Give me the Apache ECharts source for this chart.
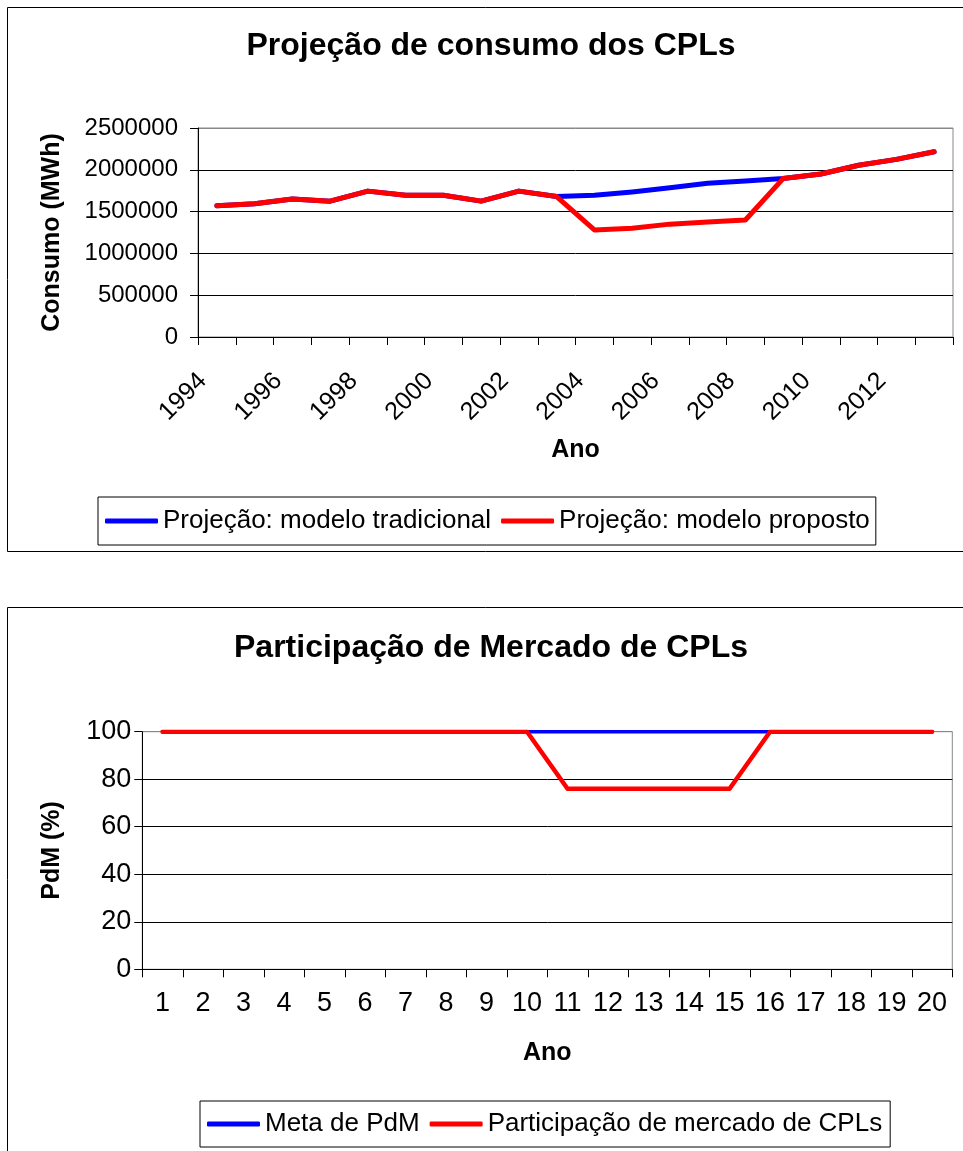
<!DOCTYPE html>
<html><head><meta charset="utf-8">
<script src="https://cdn.jsdelivr.net/npm/echarts@6/dist/echarts.min.js"></script>
<style>html,body{margin:0;padding:0;background:#fff}#c{width:963px;height:1151px}</style>
</head><body><div id="c"></div>
<script>
// ---- Chart 1: Projeção de consumo dos CPLs ----
const anos = ['1994','1995','1996','1997','1998','1999','2000','2001','2002','2003',
              '2004','2005','2006','2007','2008','2009','2010','2011','2012','2013'];
const modeloTradicional = [1570000,1595000,1650000,1625000,1745000,1695000,1695000,1625000,1745000,1680000,
                           1695000,1735000,1785000,1840000,1865000,1895000,1950000,2055000,2125000,2215000];
const modeloProposto =    [1570000,1595000,1650000,1625000,1745000,1695000,1695000,1625000,1745000,1680000,
                           1280000,1300000,1350000,1376000,1400000,1895000,1950000,2055000,2125000,2215000];
const consumoMin = 0, consumoMax = 2500000, consumoStep = 500000;

// ---- Chart 2: Participação de Mercado de CPLs ----
const periodos = ['1','2','3','4','5','6','7','8','9','10','11','12','13','14','15','16','17','18','19','20'];
const metaPdM = [100,100,100,100,100,100,100,100,100,100,100,100,100,100,100,100,100,100,100,100];
const participacaoCPL = [100,100,100,100,100,100,100,100,100,100,76,76,76,76,76,100,100,100,100,100];
const pdmMin = 0, pdmMax = 100, pdmStep = 20;

const FF = '"Liberation Sans", Arial, sans-serif';
const chart = echarts.init(document.getElementById('c'), null, {renderer: 'canvas'});

function splitColors(n) { const a = []; for (let i = 0; i < n - 1; i++) a.push('#000'); a.push('#888'); return a; }

const option = {
  backgroundColor: '#fff',
  animation: false,
  textStyle: {fontFamily: FF, color: '#000'},
  graphic: [
    {type: 'rect', shape: {x: 7.5, y: 7.5, width: 960, height: 544}, style: {fill: 'none', stroke: '#000', lineWidth: 1}, silent: true},
    {type: 'rect', shape: {x: 7.5, y: 607.5, width: 960, height: 560}, style: {fill: 'none', stroke: '#000', lineWidth: 1}, silent: true},
    {type: 'text', x: 491, y: 46, style: {text: 'Projeção de consumo dos CPLs', font: 'bold 32px ' + FF, fill: '#000',
      align: 'center', verticalAlign: 'middle', textAlign: 'center', textVerticalAlign: 'middle'}},
    {type: 'text', x: 491, y: 648, style: {text: 'Participação de Mercado de CPLs', font: 'bold 32px ' + FF, fill: '#000',
      align: 'center', verticalAlign: 'middle', textAlign: 'center', textVerticalAlign: 'middle'}}
  ],
  legend: [
    {
      left: 98, top: 497, orient: 'horizontal',
      padding: [11, 6, 11, 7], itemGap: 10, itemWidth: 53, itemHeight: 5,
      borderColor: '#000', borderWidth: 1, icon: 'roundRect',
      textStyle: {fontSize: 26, fontFamily: FF, color: '#000'},
      data: [{name: 'Projeção: modelo tradicional', itemStyle: {color: '#0000ff'}},
             {name: 'Projeção: modelo proposto', itemStyle: {color: '#ff0000'}}]
    },
    {
      left: 200, top: 1101, orient: 'horizontal',
      padding: [10, 8, 10, 7], itemGap: 10, itemWidth: 53, itemHeight: 5,
      borderColor: '#000', borderWidth: 1, icon: 'roundRect',
      textStyle: {fontSize: 26, fontFamily: FF, color: '#000'},
      data: [{name: 'Meta de PdM', itemStyle: {color: '#0000ff'}},
             {name: 'Participação de mercado de CPLs', itemStyle: {color: '#ff0000'}}]
    }
  ],
  grid: [
    {left: 198, top: 128, width: 755, height: 209, show: true, borderColor: '#888', borderWidth: 1, backgroundColor: 'transparent', containLabel: false},
    {left: 142.3, top: 731.7, width: 810, height: 237.6, show: true, borderColor: '#888', borderWidth: 1, backgroundColor: 'transparent', containLabel: false}
  ],
  xAxis: [
    {
      gridIndex: 0, type: 'category', data: anos, boundaryGap: true,
      axisLine: {show: true, lineStyle: {color: '#000', width: 1}},
      axisTick: {show: true, interval: 0, length: 8, lineStyle: {color: '#000'}},
      axisLabel: {interval: 1, rotate: 45, fontSize: 25, margin: 26, padding: [0, 20, 0, 0], color: '#000', fontFamily: FF},
      splitLine: {show: false},
      name: 'Ano', nameLocation: 'middle', nameGap: 101,
      nameTextStyle: {fontSize: 25, fontWeight: 'bold', color: '#000', fontFamily: FF}
    },
    {
      gridIndex: 1, type: 'category', data: periodos, boundaryGap: true,
      axisLine: {show: true, lineStyle: {color: '#000', width: 1}},
      axisTick: {show: true, interval: 0, length: 8, lineStyle: {color: '#000'}},
      axisLabel: {interval: 0, fontSize: 27, margin: 21, color: '#000', fontFamily: FF},
      splitLine: {show: false},
      name: 'Ano', nameLocation: 'middle', nameGap: 71,
      nameTextStyle: {fontSize: 25, fontWeight: 'bold', color: '#000', fontFamily: FF}
    }
  ],
  yAxis: [
    {
      gridIndex: 0, type: 'value', min: consumoMin, max: consumoMax, interval: consumoStep,
      axisLine: {show: true, lineStyle: {color: '#000', width: 1}},
      axisTick: {show: true, length: 8, lineStyle: {color: '#000'}},
      axisLabel: {fontSize: 24, margin: 20, color: '#000', fontFamily: FF, formatter: v => String(v)},
      splitLine: {show: true, lineStyle: {color: splitColors(6), width: 1}},
      name: 'Consumo (MWh)', nameLocation: 'middle', nameGap: 133,
      nameTextStyle: {fontSize: 25, fontWeight: 'bold', color: '#000', fontFamily: FF}
    },
    {
      gridIndex: 1, type: 'value', min: pdmMin, max: pdmMax, interval: pdmStep,
      axisLine: {show: true, lineStyle: {color: '#000', width: 1}},
      axisTick: {show: true, length: 8, lineStyle: {color: '#000'}},
      axisLabel: {fontSize: 27, margin: 11, color: '#000', fontFamily: FF, formatter: v => String(v)},
      splitLine: {show: true, lineStyle: {color: splitColors(6), width: 1}},
      name: 'PdM (%)', nameLocation: 'middle', nameGap: 78,
      nameTextStyle: {fontSize: 25, fontWeight: 'bold', color: '#000', fontFamily: FF}
    }
  ],
  series: [
    {name: 'Projeção: modelo tradicional', type: 'line', xAxisIndex: 0, yAxisIndex: 0, data: modeloTradicional,
     symbol: 'none', itemStyle: {color: '#0000ff'}, lineStyle: {color: '#0000ff', width: 5, cap: 'round', join: 'round'}, z: 3},
    {name: 'Projeção: modelo proposto', type: 'line', xAxisIndex: 0, yAxisIndex: 0, data: modeloProposto,
     symbol: 'none', itemStyle: {color: '#ff0000'}, lineStyle: {color: '#ff0000', width: 5, cap: 'round', join: 'round'}, z: 4},
    {name: 'Meta de PdM', type: 'line', xAxisIndex: 1, yAxisIndex: 1, data: metaPdM,
     symbol: 'none', itemStyle: {color: '#0000ff'}, lineStyle: {color: '#0000ff', width: 3.5, cap: 'round', join: 'round'}, z: 3},
    {name: 'Participação de mercado de CPLs', type: 'line', xAxisIndex: 1, yAxisIndex: 1, data: participacaoCPL,
     symbol: 'none', itemStyle: {color: '#ff0000'}, lineStyle: {color: '#ff0000', width: 4.5, cap: 'round', join: 'round'}, z: 4}
  ]
};
chart.setOption(option);
</script>
</body></html>
